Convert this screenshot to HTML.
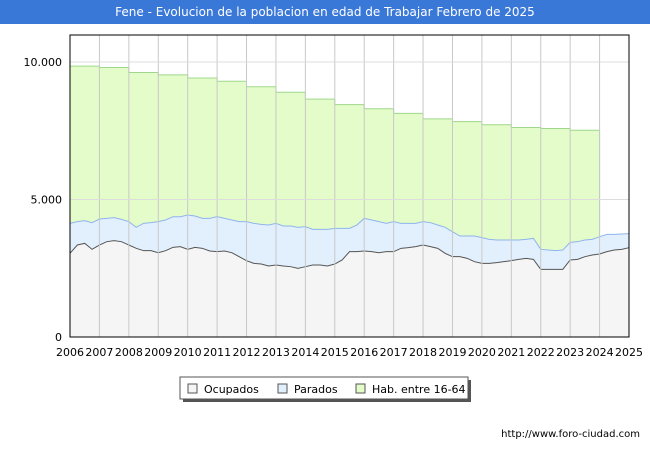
<!DOCTYPE html>
<html><head><meta charset="utf-8"><style>
body{margin:0;width:650px;height:450px;background:#fff;font-family:"DejaVu Sans","Liberation Sans",sans-serif;position:relative;overflow:hidden}
#title{position:absolute;left:0;top:0;width:650px;height:24px;background:#3a78d8;color:#fff;font-size:12px;line-height:24px;text-align:center}
</style></head><body>
<div id="title">Fene - Evolucion de la poblacion en edad de Trabajar Febrero de 2025</div>
<svg id="c" width="650" height="450" style="position:absolute;left:0;top:0"></svg>
<script>
const years=[2006,2007,2008,2009,2010,2011,2012,2013,2014,2015,2016,2017,2018,2019,2020,2021,2022,2023,2024,2025];
const habValues=[9850,9800,9620,9530,9420,9300,9100,8900,8650,8450,8300,8130,7930,7830,7720,7620,7580,7520];
const habEnd=4600;
const paradosTop=[4133,4194,4230,4157,4290,4315,4339,4278,4194,3988,4133,4157,4194,4254,4375,4375,4436,4400,4315,4315,4375,4315,4254,4194,4194,4133,4097,4072,4133,4036,4036,3988,4012,3915,3915,3915,3951,3951,3951,4072,4315,4254,4194,4133,4194,4133,4133,4133,4194,4157,4072,3988,3830,3672,3672,3672,3612,3551,3527,3527,3527,3527,3551,3588,3188,3164,3139,3164,3442,3466,3527,3551,3648,3733,3733,3745,3757];
const ocupados=[3042,3345,3406,3188,3345,3466,3503,3466,3345,3224,3139,3139,3066,3139,3260,3285,3188,3260,3224,3127,3103,3127,3066,2921,2776,2679,2654,2582,2618,2582,2557,2497,2557,2618,2618,2582,2654,2800,3103,3103,3127,3103,3066,3103,3103,3224,3248,3285,3345,3285,3224,3042,2921,2921,2860,2739,2679,2679,2703,2739,2776,2824,2860,2824,2461,2461,2461,2461,2800,2824,2921,2981,3018,3103,3163,3188,3248];
const yTicks=[0,5000,10000];
const yTickLabels=["0","5.000","10.000"];
const L=70,R=629,T=35,B=337;
const X=v=>L+(v-2006)/(2025-2006)*(R-L);
const Y=v=>B-v/10000*275;
const svg=document.getElementById('c');
const NS='http://www.w3.org/2000/svg';
function mk(t,a,p){const e=document.createElementNS(NS,t);for(const k in a)e.setAttribute(k,a[k]);(p||svg).appendChild(e);return e;}
let e=mk('rect',{x:L,y:T,width:R-L,height:B-T,fill:'#fff',stroke:'#000'});

const qx=i=>X(2006+i*0.25);
let d='M'+X(2006)+','+B;
habValues.forEach((v,i)=>{d+=' L'+X(years[i])+','+Y(v)+' L'+X(years[i]+1)+','+Y(v);});
d+=' L'+X(2024)+','+Y(habEnd)+' L'+X(2024)+','+B+' Z';
e=mk('path',{d:d,fill:'#e4fcc9',stroke:'#9fd88a','stroke-width':1});

function area(arr,fill,stroke,name){
 let p='M'+qx(0)+','+B;arr.forEach((v,i)=>p+=' L'+qx(i)+','+Y(v));p+=' L'+qx(arr.length-1)+','+B+' Z';
 let a=mk('path',{d:p,fill:fill});
 let l='';arr.forEach((v,i)=>l+=(i?' L':'M')+qx(i)+','+Y(v));
 let ln=mk('path',{d:l,fill:'none',stroke:stroke,'stroke-width':1});
}
area(paradosTop,'#e2f0fd','#8fb4ec','parados');
area(ocupados,'#f5f5f5','#555','ocupados');
years.forEach(y=>{let g=mk('line',{x1:X(y),x2:X(y),y1:T,y2:B,stroke:'#c8c8c8'});
 let t=mk('text',{x:X(y),y:356,'font-size':11,'text-anchor':'middle',fill:'#000'});t.textContent=y;});
yTicks.forEach((v,i)=>{let g=mk('line',{x1:L,x2:R,y1:Y(v),y2:Y(v),stroke:'#ddd'});
 let t=mk('text',{x:62,y:Y(v)+4,'font-size':11,'text-anchor':'end',fill:'#000'});t.textContent=yTickLabels[i];});
e=mk('rect',{x:L,y:T,width:R-L,height:B-T,fill:'none',stroke:'#000'});

const lg=mk('g',{});
mk('rect',{x:183,y:380,width:288,height:22,fill:'#555'},lg);
mk('rect',{x:180,y:377,width:288,height:22,fill:'#fff',stroke:'#555'},lg);
const items=[['Ocupados','#f5f5f5',188],['Parados','#e2f0fd',278],['Hab. entre 16-64','#e4fcc9',356]];
items.forEach(it=>{const g=mk('g',{},lg);
 mk('rect',{x:it[2],y:384,width:9,height:9,fill:it[1],stroke:'#555'},g);
 const t=mk('text',{x:it[2]+16,y:393,'font-size':11},g);t.textContent=it[0];});
e=mk('text',{x:640,y:437,'font-size':10,'text-anchor':'end'});e.textContent='http://www.foro-ciudad.com';

</script>
</body></html>
